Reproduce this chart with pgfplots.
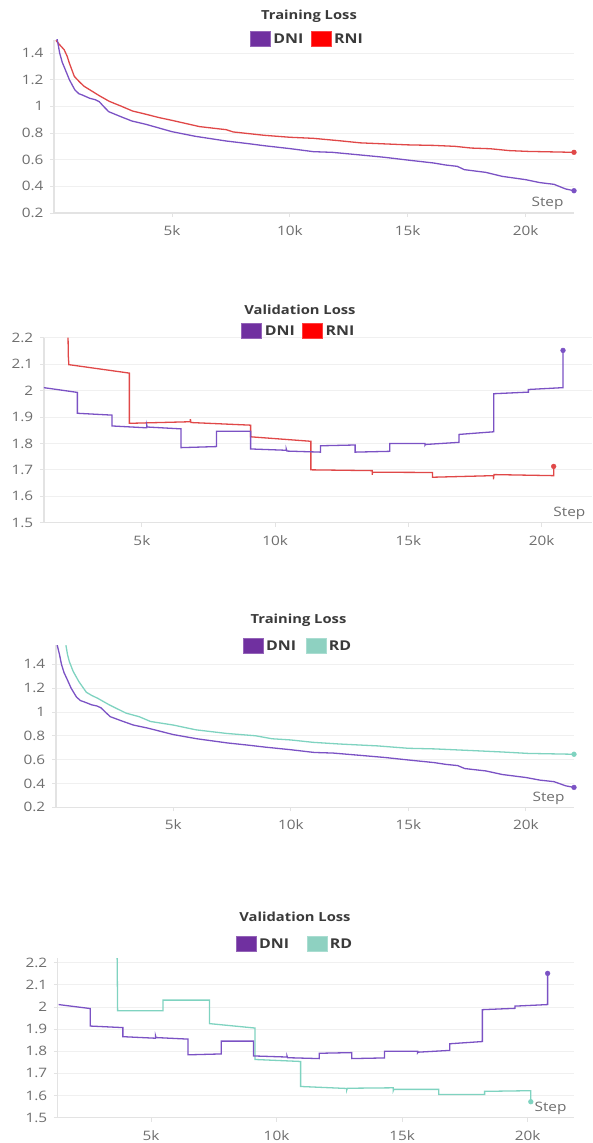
\documentclass[border=0pt]{standalone}
\usepackage{fontspec}
\setmainfont{Open Sans}[FakeStretch=1.18]
\usepackage{pgfplots}
\pgfplotsset{compat=1.18}

\definecolor{dniline}{HTML}{7B52C4}
\definecolor{dnileg}{HTML}{7030A0}
\definecolor{rniline}{HTML}{E04848}
\definecolor{rnileg}{HTML}{FF0000}
\definecolor{rdline}{HTML}{7FD3C0}
\definecolor{rdleg}{HTML}{8ED1C1}
\definecolor{gridc}{HTML}{F0F0F0}
\definecolor{axisc}{HTML}{E3E3E3}
\definecolor{tickc}{HTML}{6E6E6E}
\definecolor{titlec}{HTML}{3A3A3A}

\tikzset{
  steplabel/.style={anchor=base east, font=\fontsize{13}{15}\selectfont, text=tickc},
  ttl/.style={font=\fontsize{12.5}{15}\selectfont\bfseries, text=titlec},
}

\pgfplotsset{
  lossax/.style={
    scale only axis, anchor=south west,
    axis x line=bottom, axis y line=left,
    axis line style={-, draw=axisc, line width=1.5pt},
    ymajorgrids, grid style={draw=gridc, line width=0.8pt},
    major tick length=4pt, tick align=outside,
    major tick style={draw=axisc, line width=0.8pt},
    clip mode=individual,
    tick label style={font=\fontsize{13}{15}\selectfont, text=tickc},
    /pgf/number format/assume math mode=true,
    /pgf/number format/fixed,
    xtick={5000,10000,15000,20000}, xticklabels={5k,10k,15k,20k},
    scaled x ticks=false, scaled y ticks=false,
    yticklabel style={xshift=-3pt},
    xticklabel style={yshift=-5pt},
    legend columns=-1,
    legend style={draw=none, fill=none, anchor=center,
      font=\fontsize{13.5}{15}\selectfont\bfseries, text=titlec, inner sep=0pt,
      nodes={inner sep=2.5pt}},
    legend cell align=left,
    legend image code/.code={\filldraw[line width=0.8pt,#1] (0pt,-7.5pt) rectangle (20pt,7.5pt);},
  },
  ln/.style={line width=1.3pt, mark=none, forget plot},
  endpt/.style={only marks, mark=*, mark size=2.4pt, forget plot},
}

\pgfplotstableread{
x y
60 1.56
160 1.48
240 1.40
350 1.33
480 1.275
650 1.20
880 1.125
1050 1.095
1200 1.085
1520 1.06
1750 1.05
1920 1.035
2100 1.00
2320 0.96
2800 0.925
3300 0.89
3900 0.865
4400 0.84
5000 0.810
6000 0.775
7300 0.740
8250 0.720
8900 0.705
10000 0.683
11000 0.660
11800 0.655
13000 0.635
14000 0.618
15000 0.597
16100 0.575
16600 0.560
17100 0.550
17400 0.525
18300 0.505
19000 0.475
20000 0.450
20600 0.428
21200 0.415
21700 0.380
22050 0.367
}\dnitrain

\pgfplotstableread{
x y
80 1.495
250 1.46
430 1.425
560 1.375
650 1.325
860 1.225
1100 1.18
1280 1.15
1600 1.115
1920 1.08
2350 1.037
2800 1.005
3330 0.965
3800 0.945
4470 0.915
5000 0.895
6170 0.848
7300 0.825
7600 0.808
8900 0.783
10000 0.768
11000 0.760
12100 0.742
13000 0.726
15000 0.711
16100 0.707
17000 0.700
17700 0.687
18500 0.682
19300 0.668
20100 0.662
22050 0.655
}\rnitrain

\pgfplotstableread{
x y
430 1.56
500 1.48
580 1.42
740 1.34
980 1.255
1300 1.165
1540 1.137
1780 1.115
2270 1.06
2990 0.99
3550 0.96
4030 0.92
5000 0.89
5960 0.85
7250 0.82
8500 0.80
9200 0.775
10000 0.765
10950 0.745
12070 0.731
13700 0.715
15000 0.695
16100 0.69
17700 0.676
19000 0.664
20100 0.652
22050 0.645
}\rdtrain

\pgfplotstableread{
x y
1320 2.011
2580 1.993
2580 1.914
3880 1.907
3880 1.866
5180 1.859
5180 1.870
5200 1.862
6470 1.855
6470 1.784
7800 1.788
7800 1.846
9080 1.846
9080 1.779
10420 1.774
10420 1.778
10440 1.771
11700 1.767
11700 1.791
13000 1.794
13000 1.767
14300 1.770
14300 1.800
15620 1.800
15620 1.793
15640 1.796
16900 1.804
16900 1.834
18200 1.844
18200 1.988
19500 1.994
19500 2.004
20800 2.011
20800 2.152
}\dnival

\pgfplotstableread{
x y
2230 2.20
2240 2.13
2260 2.098
4530 2.066
4530 1.876
6820 1.882
6820 1.892
6840 1.879
9080 1.869
9080 1.825
11340 1.808
11340 1.700
13640 1.697
13640 1.681
13660 1.691
15900 1.690
15900 1.672
18190 1.678
18190 1.664
18210 1.682
20450 1.678
20450 1.713
}\rnival

\pgfplotstableread{
x y
3650 2.23
3670 1.983
5480 1.983
5480 2.031
7330 2.031
7330 1.925
9140 1.905
9140 1.763
10960 1.754
10960 1.641
12800 1.632
12800 1.626
12820 1.633
14650 1.635
14650 1.622
14670 1.628
16460 1.628
16460 1.605
18290 1.605
18290 1.619
20130 1.622
20130 1.572
}\rdval

\begin{document}
\begin{tikzpicture}
\useasboundingbox (0pt,0pt) rectangle (592pt,1143pt);

% Panel 1
\node[ttl] at (309pt,1127pt) {Training Loss};
\begin{axis}[lossax, at={(54pt,930pt)}, width=520pt, height=173.3pt,
  xmin=0, xmax=22050, ymin=0.2, ymax=1.5,
  ytick={0.2,0.4,0.6,0.8,1,1.2,1.4},
  legend style={at={(0.488,1.004)}, /tikz/every even column/.append style={column sep=5pt}}]
\addplot[ln, rniline] table {\rnitrain};
\addplot[ln, dniline] table {\dnitrain};
\addplot[endpt, rniline] coordinates {(22050,0.655)};
\addplot[endpt, dniline] coordinates {(22050,0.367)};
\addlegendimage{fill=dnileg, draw=dnileg!75!white}
\addlegendentry{DNI}
\addlegendimage{fill=rnileg, draw=rnileg!75!white}
\addlegendentry{RNI}
\node[steplabel, xshift=-7pt, yshift=6pt] at (rel axis cs:1,0) {Step};
\end{axis}

% Panel 2
\node[ttl] at (300pt,833pt) {Validation Loss};
\begin{axis}[lossax, at={(43.8pt,620.3pt)}, width=548pt, height=185pt,
  xmin=1320, xmax=21880, ymin=1.5, ymax=2.2,
  ytick={1.5,1.6,1.7,1.8,1.9,2,2.1,2.2},
  legend style={at={(0.466,1.036)}, /tikz/every even column/.append style={column sep=5pt}}]
\addplot[ln, rniline] table {\rnival};
\addplot[ln, dniline] table {\dnival};
\addplot[endpt, rniline] coordinates {(20450,1.713)};
\addplot[endpt, dniline] coordinates {(20800,2.152)};
\addlegendimage{fill=dnileg, draw=dnileg!75!white}
\addlegendentry{DNI}
\addlegendimage{fill=rnileg, draw=rnileg!75!white}
\addlegendentry{RNI}
\node[steplabel, xshift=-3pt, yshift=6pt] at (rel axis cs:1,0) {Step};
\end{axis}

% Panel 3
\node[ttl] at (298.5pt,523pt) {Training Loss};
\begin{axis}[lossax, at={(55.8pt,335.7pt)}, width=518.2pt, height=162.1pt,
  xmin=0, xmax=22050, ymin=0.2, ymax=1.56,
  ytick={0.2,0.4,0.6,0.8,1,1.2,1.4},
  legend style={at={(0.468,0.995)}, /tikz/every even column/.append style={column sep=7pt}}]
\addplot[ln, rdline] table {\rdtrain};
\addplot[ln, dniline] table {\dnitrain};
\addplot[endpt, rdline] coordinates {(22050,0.645)};
\addplot[endpt, dniline] coordinates {(22050,0.367)};
\addlegendimage{fill=dnileg, draw=dnileg!75!white}
\addlegendentry{DNI}
\addlegendimage{fill=rdleg, draw=rdleg!75!white}
\addlegendentry{RD}
\node[steplabel, xshift=-6pt, yshift=5.6pt] at (rel axis cs:1,0) {Step};
\end{axis}

% Panel 4
\node[ttl] at (295pt,226.3pt) {Validation Loss};
\begin{axis}[lossax, at={(57.7pt,25.3pt)}, width=516.3pt, height=159.4pt,
  xmin=1283, xmax=21850, ymin=1.5, ymax=2.22,
  ytick={1.5,1.6,1.7,1.8,1.9,2,2.1,2.2},
  legend style={at={(0.46,1.09)}, /tikz/every even column/.append style={column sep=15pt}}]
\addplot[ln, rdline] table {\rdval};
\addplot[ln, dniline] table {\dnival};
\addplot[endpt, rdline] coordinates {(20130,1.572)};
\addplot[endpt, dniline] coordinates {(20800,2.152)};
\addlegendimage{fill=dnileg, draw=dnileg!75!white}
\addlegendentry{DNI}
\addlegendimage{fill=rdleg, draw=rdleg!75!white}
\addlegendentry{RD}
\node[steplabel, xshift=-4pt, yshift=6pt] at (rel axis cs:1,0) {Step};
\end{axis}
\end{tikzpicture}
\end{document}
